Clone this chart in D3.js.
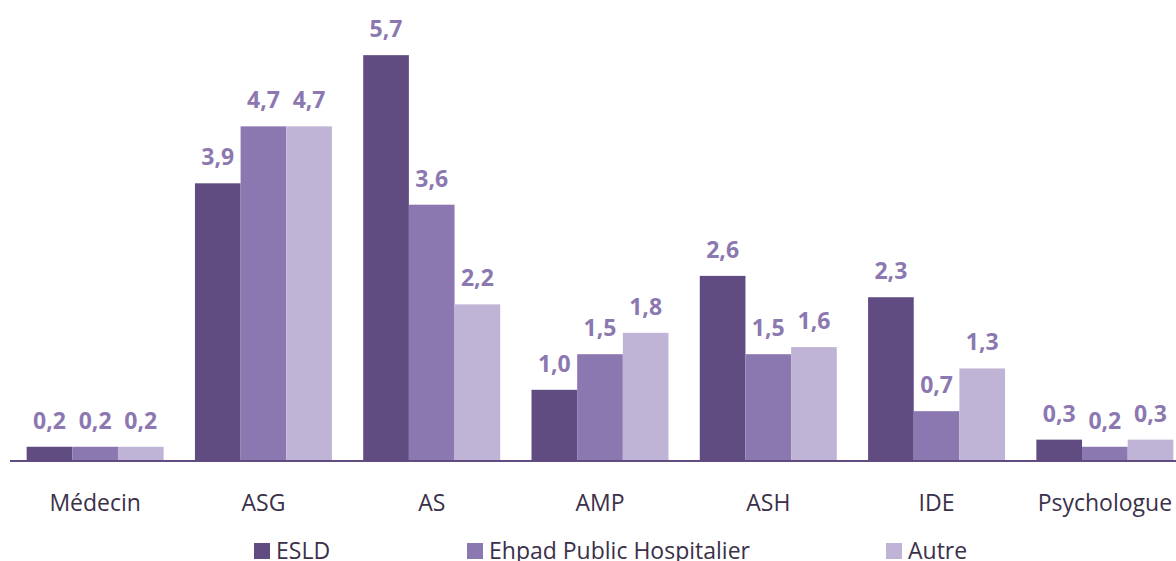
<!DOCTYPE html>
<html>
<head>
<meta charset="utf-8">
<script src="https://cdn.jsdelivr.net/npm/d3@7"></script>
<style>
  body { margin: 0; background: #fff; }
  svg { display: block; font-family: "Open Sans", sans-serif; }
</style>
</head>
<body>
<div id="chart"></div>
<script>
const categories = ['Médecin', 'ASG', 'AS', 'AMP', 'ASH', 'IDE', 'Psychologue'];
const seriesNames = ['ESLD', 'Ehpad Public Hospitalier', 'Autre'];
const esld = [0.2, 3.9, 5.7, 1.0, 2.6, 2.3, 0.3];
const ehpad = [0.2, 4.7, 3.6, 1.5, 1.5, 0.7, 0.2];
const autre = [0.2, 4.7, 2.2, 1.8, 1.6, 1.3, 0.3];
const colors = ['#604c80', '#8c78b0', '#c0b4d6'];

const width = 1176;
const height = 561;
const baseline = 461;

const data = categories.map((c, i) => ({
    cat: c,
    vals: [esld[i], ehpad[i], autre[i]]
}));

const svg = d3.select('#chart')
  .append('svg')
  .attr('width', width)
  .attr('height', height);

const xScale = d3.scaleBand()
  .domain(categories)
  .range([11, 1189])
  .paddingInner(0.186)
  .paddingOuter(0.093);

const xInner = d3.scaleBand()
  .domain(d3.range(3))
  .range([0, xScale.bandwidth()]);

const yScale = d3.scaleLinear()
  .domain([0, 6])
  .range([baseline, baseline - 6 * 71.2]);

const fmt = v => d3.format('.1f')(v).replace('.', ',');

const groups = svg.selectAll('g.cat')
  .data(data)
  .enter()
  .append('g')
  .attr('class', 'cat')
  .attr('transform', d => `translate(${xScale(d.cat)},0)`);

groups.selectAll('rect')
  .data(d => d.vals)
  .enter()
  .append('rect')
  .attr('x', (d, i) => xInner(i))
  .attr('y', d => yScale(d))
  .attr('width', xInner.bandwidth())
  .attr('height', d => baseline - yScale(d))
  .attr('fill', (d, i) => colors[i]);

groups.selectAll('text.val')
  .data(d => d.vals)
  .enter()
  .append('text')
  .attr('class', 'val')
  .attr('x', (d, i) => xInner(i) + xInner.bandwidth() / 2)
  .attr('y', d => yScale(d) - 18)
  .attr('text-anchor', 'middle')
  .attr('font-size', 23)
  .attr('font-weight', 'bold')
  .attr('fill', '#8c78b0')
  .text(fmt);

// x axis line
svg.append('line')
  .attr('x1', 10)
  .attr('x2', width)
  .attr('y1', baseline)
  .attr('y2', baseline)
  .attr('stroke', '#604c80')
  .attr('stroke-width', 2);

const xAxis = d3.axisBottom(xScale).tickSize(0).tickPadding(0);
svg.append('g')
  .attr('transform', `translate(0, ${baseline})`)
  .call(xAxis)
  .call(g => g.select('.domain').remove())
  .call(g => g.selectAll('text')
    .attr('dy', null)
    .attr('y', 50)
    .attr('font-family', '"Open Sans", sans-serif')
    .attr('font-size', 23)
    .attr('fill', '#3b3049'));

// legend
const legendX = [254, 467, 886];
const legend = svg.selectAll('g.legend')
  .data(seriesNames)
  .enter()
  .append('g')
  .attr('class', 'legend')
  .attr('transform', (d, i) => `translate(${legendX[i]}, 543)`);

legend.append('rect')
  .attr('width', 16)
  .attr('height', 16)
  .attr('fill', (d, i) => colors[i]);

legend.append('text')
  .attr('x', 22)
  .attr('y', 16)
  .attr('font-size', 23)
  .attr('fill', '#3b3049')
  .text(d => d);
</script>
</body>
</html>
